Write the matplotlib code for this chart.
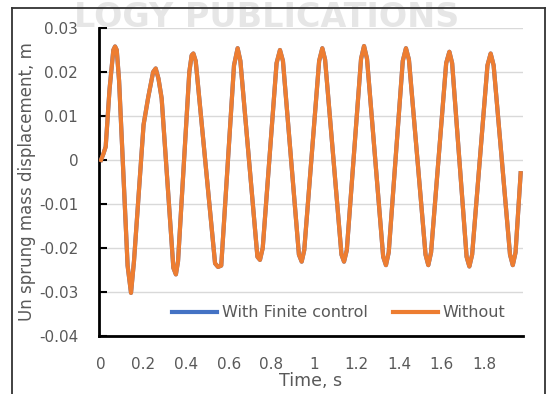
import matplotlib
matplotlib.use("Agg")
import matplotlib.pyplot as plt
from matplotlib.lines import Line2D

# values (time in s, displacement in m)
time_s = [0.000, 0.012, 0.022, 0.040, 0.058, 0.066, 0.074, 0.085,
          0.125, 0.141, 0.155, 0.200, 0.222, 0.245, 0.257, 0.270, 0.285,
          0.340, 0.352, 0.362, 0.415, 0.426, 0.434, 0.445,
          0.536, 0.550, 0.565, 0.625, 0.642, 0.655,
          0.735, 0.747, 0.760, 0.825, 0.841, 0.855,
          0.930, 0.943, 0.955, 1.025, 1.040, 1.053,
          1.130, 1.142, 1.155, 1.222, 1.236, 1.250,
          1.326, 1.339, 1.352, 1.418, 1.433, 1.447,
          1.525, 1.538, 1.551, 1.622, 1.637, 1.650,
          1.718, 1.731, 1.744, 1.816, 1.831, 1.845,
          1.922, 1.935, 1.948, 1.972]

without_ctrl = [0.0000, 0.0015, 0.0030, 0.0160, 0.0250, 0.0258, 0.0250, 0.0180,
                -0.0240, -0.0302, -0.0230, 0.0080, 0.0143, 0.0200, 0.0208, 0.0185, 0.0140,
                -0.0245, -0.0260, -0.0230, 0.0200, 0.0238, 0.0242, 0.0225,
                -0.0235, -0.0243, -0.0240, 0.0215, 0.0254, 0.0225,
                -0.0220, -0.0227, -0.0200, 0.0220, 0.0250, 0.0225,
                -0.0215, -0.0231, -0.0205, 0.0225, 0.0254, 0.0228,
                -0.0215, -0.0231, -0.0205, 0.0230, 0.0259, 0.0230,
                -0.0220, -0.0239, -0.0210, 0.0225, 0.0254, 0.0228,
                -0.0215, -0.0239, -0.0210, 0.0220, 0.0246, 0.0220,
                -0.0220, -0.0242, -0.0215, 0.0215, 0.0242, 0.0215,
                -0.0215, -0.0239, -0.0210, -0.0030]

# the controlled curve sits exactly under the uncontrolled one in the picture
with_finite = list(without_ctrl)

x_ticks = [0, 0.2, 0.4, 0.6, 0.8, 1.0, 1.2, 1.4, 1.6, 1.8]
x_tick_labels = ["0", "0.2", "0.4", "0.6", "0.8", "1", "1.2", "1.4", "1.6", "1.8"]
y_ticks = [-0.04, -0.03, -0.02, -0.01, 0, 0.01, 0.02, 0.03]
y_tick_labels = ["-0.04", "-0.03", "-0.02", "-0.01", "0", "0.01", "0.02", "0.03"]

plt.rcParams['font.family'] = ['DejaVu Sans']
grey_text = '#595959'

W, H = 547, 394
fig = plt.figure(figsize=(W / 100, H / 100), dpi=100)

# faint watermark and page frame from the source document
fig.text(267 / W, 1 - 27 / H, "LOGY PUBLICATIONS", ha='center', va='baseline',
         fontsize=24, fontweight='bold', color='#e6e6e6', zorder=0)
fig.add_artist(Line2D([12 / W, 545 / W], [1 - 8 / H, 1 - 8 / H], color='#333333', lw=1.3))
fig.add_artist(Line2D([12 / W, 12 / W], [0, 1 - 8 / H], color='#333333', lw=1.3))
fig.add_artist(Line2D([545 / W, 545 / W], [0, 1 - 8 / H], color='#333333', lw=1.3))

ax = fig.add_axes([99 / W, 1 - 336 / H, (523 - 99) / W, (336 - 28) / H])
ax.patch.set_alpha(0)

ax.plot(time_s, with_finite, color='#4472C4', lw=3, label='With Finite control',
        solid_joinstyle='round', zorder=3)
ax.plot(time_s, without_ctrl, color='#ED7D31', lw=3, label='Without',
        solid_joinstyle='round', zorder=4)

ax.set_xlim(-0.0094, 1.983)
ax.set_ylim(-0.04, 0.03)
ax.set_xticks(x_ticks)
ax.set_xticklabels(x_tick_labels)
ax.set_yticks(y_ticks)
ax.set_yticklabels(y_tick_labels)

ax.grid(axis='y', color='#d9d9d9', lw=1)
ax.set_axisbelow(True)
for side in ['top', 'right']:
    ax.spines[side].set_visible(False)
for side in ['left', 'bottom']:
    ax.spines[side].set_linewidth(2)
    ax.spines[side].set_color('black')

ax.tick_params(axis='y', direction='in', length=6, width=1.5, pad=15,
               labelsize=11, labelcolor=grey_text)
ax.tick_params(axis='x', length=0, pad=15, labelsize=11, labelcolor=grey_text)

ax.set_xlabel('Time, s', fontsize=12.5, color=grey_text, labelpad=0)
ax.set_ylabel('Un sprung mass displacement, m', fontsize=12, color=grey_text, labelpad=2)

ax.legend(loc='center', bbox_to_anchor=(0.566, 0.075), ncol=2, frameon=False,
          fontsize=11.5, labelcolor=grey_text, handlelength=2.8, handletextpad=0.3,
          columnspacing=1.6)

fig.savefig('out.png', dpi=100)
